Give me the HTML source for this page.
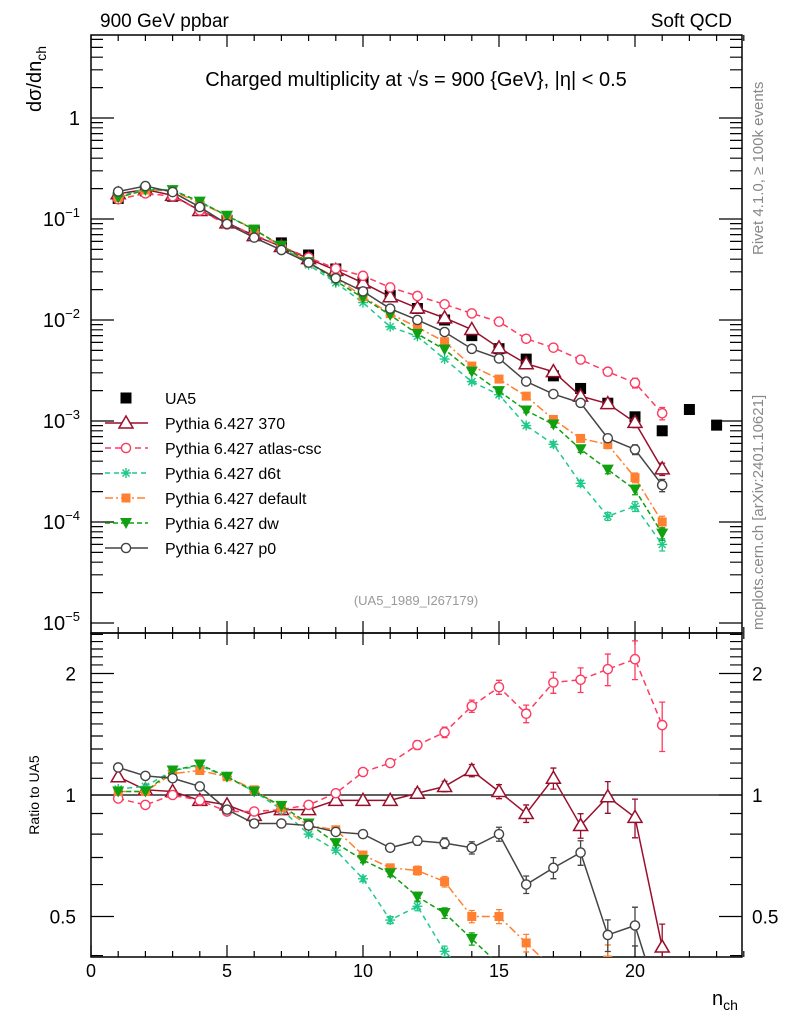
<!DOCTYPE html>
<html><head><meta charset="utf-8"><style>
html,body{margin:0;padding:0;background:#fff;width:786px;height:1024px;overflow:hidden;}
svg{display:block;font-family:"Liberation Sans",sans-serif;}
</style></head><body>
<svg id="chart" width="786" height="1024" viewBox="0 0 786 1024">
<defs>
<clipPath id="clipMain"><rect x="91" y="35" width="651" height="598"/></clipPath>
<clipPath id="clipRatio"><rect x="91" y="633" width="651" height="324"/></clipPath>
</defs>
<text x="100" y="27" font-size="19">900 GeV ppbar</text>
<text x="732" y="27" font-size="19" text-anchor="end">Soft QCD</text>
<text x="416" y="86" font-size="20" text-anchor="middle">Charged multiplicity at √s = 900 {GeV}, |η| &lt; 0.5</text>
<text transform="translate(41,112) rotate(-90)" font-size="20">dσ/dn<tspan font-size="14" dy="5">ch</tspan></text>
<text transform="translate(39,795) rotate(-90)" font-size="14" text-anchor="middle">Ratio to UA5</text>
<text x="712" y="1005" font-size="20">n<tspan font-size="14" dy="5">ch</tspan></text>
<text transform="translate(763,255) rotate(-90)" font-size="15" fill="#888">Rivet 4.1.0, ≥ 100k events</text>
<text transform="translate(763,630) rotate(-90)" font-size="15" fill="#888">mcplots.cern.ch [arXiv:2401.10621]</text>
<text x="416" y="605" font-size="13" fill="#999" text-anchor="middle">(UA5_1989_I267179)</text>
<g id="axes"></g>
<g id="marks"></g>
<g id="legend"></g>
</svg>
<script>
// ---- data ----
const nch = [1,2,3,4,5,6,7,8,9,10,11,12,13,14,15,16,17,18,19,20,21,22,23];
const ua5 = [0.16,0.19,0.168,0.125,0.097,0.077,0.058,0.044,0.032,0.024,0.0175,0.013,0.010,0.0070,0.0052,0.0041,0.0028,0.0021,0.0015,0.0011,0.00080,0.0013,0.00091];
const r370 = [1.11,1.03,1.02,0.97,0.945,0.89,0.92,0.92,0.97,0.97,0.97,1.01,1.05,1.15,1.02,0.90,1.10,0.84,0.99,0.88,0.42];
const rAtlas = [0.98,0.945,1.0,0.97,0.91,0.91,0.92,0.945,1.01,1.14,1.20,1.33,1.43,1.66,1.85,1.59,1.90,1.93,2.05,2.17,1.49];
const rD6t = [1.035,1.05,1.15,1.18,1.11,1.02,0.92,0.80,0.73,0.62,0.49,0.53,0.41,0.35,0.35,0.22,0.21,0.115,0.076,0.13,0.075];
const rDefault = [1.02,1.02,1.13,1.15,1.11,1.03,0.93,0.84,0.82,0.71,0.66,0.65,0.61,0.50,0.50,0.43,0.37,0.32,0.39,0.25,0.125];
const rDw = [1.02,1.02,1.15,1.19,1.11,1.02,0.94,0.85,0.76,0.69,0.64,0.56,0.51,0.44,0.38,0.31,0.33,0.25,0.22,0.19,0.096];
const rP0 = [1.17,1.115,1.10,1.05,0.92,0.85,0.85,0.84,0.81,0.80,0.74,0.77,0.76,0.74,0.80,0.60,0.66,0.72,0.45,0.475,0.29];
const relErr = [0.005,0.005,0.005,0.005,0.005,0.007,0.008,0.01,0.012,0.015,0.02,0.025,0.03,0.035,0.04,0.05,0.06,0.07,0.09,0.11,0.14];
const xTicks = [0,5,10,15,20];
const yMainTicks = [0,-1,-2,-3,-4,-5];
const ratioTicks = [0.5,1,2];
const legendNames = ["UA5","Pythia 6.427 370","Pythia 6.427 atlas-csc","Pythia 6.427 d6t","Pythia 6.427 default","Pythia 6.427 dw","Pythia 6.427 p0"];

// ---- axes ----
const X0=91,X1=742,MT=35,MB=633,RT=633,RB=957;
const xs = v => 91 + v*27.2;
const ym = v => 118 - 101*Math.log10(v);
const yr = r => 795 - 121.5*Math.log2(r);
const NS='http://www.w3.org/2000/svg';
function mk(tag, attrs, parent){const e=document.createElementNS(NS,tag);for(const k in attrs)e.setAttribute(k,attrs[k]);parent.appendChild(e);return e;}
const axes=document.getElementById('axes');
const marks=document.getElementById('marks');
const legend=document.getElementById('legend');

const frameM=mk('rect',{x:X0,y:MT,width:X1-X0,height:MB-MT,fill:'none',stroke:'#000','stroke-width':1.5},axes);


const frameR=mk('rect',{x:X0,y:RT,width:X1-X0,height:RB-RT,fill:'none',stroke:'#000','stroke-width':1.5},axes);


let tp='';
for(let i=0;i<=24;i++){const x=xs(i);const L=(i%5===0)?12:6;
  tp+=`M${x},${MT}v${L}M${x},${MB}v${-L}M${x},${RT}v${L}M${x},${RB}v${-L}`;}
for(let d=0;d>=-5;d--){for(let m=1;m<=9;m++){const v=m*Math.pow(10,d);const y=ym(v);if(y<MT||y>MB)continue;const L=m===1?23:12;
  tp+=`M${X0},${y}h${L}M${X1},${y}h${-L}`;}}
for(let m=2;m<=6;m++){const y=ym(m);if(y>=MT){tp+=`M${X0},${y}h12M${X1},${y}h-12`;}}
for(let r=0.4;r<=2.55;r+=0.1){const rr=Math.round(r*10)/10;const y=yr(rr);if(y<RT||y>RB)continue;const L=(rr===0.5||rr===1||rr===2)?23:12;
  tp+=`M${X0},${y}h${L}M${X1},${y}h${-L}`;}
const tk=mk('path',{d:tp,stroke:'#000','stroke-width':1.2,fill:'none'},axes);


const one=mk('line',{x1:X0,x2:X1,y1:yr(1),y2:yr(1),stroke:'#000','stroke-width':1.2},axes);


xTicks.forEach(v=>{const t=mk('text',{x:xs(v),y:977,'font-size':18,'text-anchor':'middle'},axes);t.textContent=v;
  
  });
yMainTicks.forEach(d=>{const t=mk('text',{x:80,y:ym(Math.pow(10,d))+7,'font-size':20,'text-anchor':'end'},axes);
  if(d===0){t.textContent='1';}else{t.textContent='10';const s=mk('tspan',{dy:-9,'font-size':13},t);s.textContent='−'+(-d);}
  
  });
ratioTicks.forEach(r=>{[[76,'end'],[752,'start']].forEach(([x,a])=>{const t=mk('text',{x:x,y:yr(r)+7,'font-size':19,'text-anchor':a},axes);t.textContent=r;
  
  });});

// ---- markers ----
function marker(g,type,x,y,c){
  if(type==='sq'){mk('rect',{x:x-5.5,y:y-5.5,width:11,height:11,fill:c},g);}
  else if(type==='tri'){mk('path',{d:`M${x},${y-7}L${x+7},${y+5}L${x-7},${y+5}Z`,fill:'#fff',stroke:c,'stroke-width':1.5},g);}
  else if(type==='circ'){mk('circle',{cx:x,cy:y,r:4.6,fill:'#fff',stroke:c,'stroke-width':1.4},g);}
  else if(type==='star'){let d='';for(let k=0;k<4;k++){const a=k*Math.PI/4;d+=`M${x-5*Math.cos(a)},${y-5*Math.sin(a)}L${x+5*Math.cos(a)},${y+5*Math.sin(a)}`;}mk('path',{d:d,stroke:c,'stroke-width':1.4},g);}
  else if(type==='fsq'){mk('rect',{x:x-4.5,y:y-4.5,width:9,height:9,fill:c},g);}
  else if(type==='dtri'){mk('path',{d:`M${x-6},${y-5}L${x+6},${y-5}L${x},${y+6}Z`,fill:c},g);}
}
const series=[
 {name:'370',r:r370,c:'#990f2c',dash:'',m:'tri'},
 {name:'atlas-csc',r:rAtlas,c:'#ff3a60',dash:'6,4',m:'circ'},
 {name:'d6t',r:rD6t,c:'#1fc98a',dash:'5,4',m:'star'},
 {name:'default',r:rDefault,c:'#ff8030',dash:'8,3,2,3',m:'fsq'},
 {name:'dw',r:rDw,c:'#10a010',dash:'5,3',m:'dtri'},
 {name:'p0',r:rP0,c:'#444444',dash:'',m:'circ'}
];
const gm=mk('g',{'clip-path':'url(#clipMain)'},marks);
const gr=mk('g',{'clip-path':'url(#clipRatio)'},marks);
const gu=mk('g',{},gm);


ua5.forEach((v,i)=>{marker(gu,'sq',xs(nch[i]),ym(v),'#000');});
series.forEach(s=>{
  ['main','ratio'].forEach(panel=>{
    const parent=panel==='main'?gm:gr;
    const g=mk('g',{},parent);
    
    
    const pts=s.r.map((r,i)=>{const v=r*ua5[i];return panel==='main'?[xs(nch[i]),ym(v),ym(v*(1+relErr[i])),ym(v*(1-relErr[i]))]:[xs(nch[i]),yr(r),yr(r*(1+relErr[i])),yr(r*(1-relErr[i]))];});
    let eb='';pts.forEach(p=>{if(p[3]-p[2]>3){eb+=`M${p[0]},${p[2]}V${p[3]}M${p[0]-3},${p[2]}h6M${p[0]-3},${p[3]}h6`;}});
    mk('path',{d:eb,stroke:s.c,'stroke-width':1.3,fill:'none'},g);
    mk('polyline',{points:pts.map(p=>p[0]+','+p[1]).join(' '),fill:'none',stroke:s.c,'stroke-width':1.5,'stroke-dasharray':s.dash},g);
    pts.forEach(p=>marker(g,s.m,p[0],p[1],s.c));
  });
});
// ---- legend ----
legendNames.forEach((nm,i)=>{
  const y=398+25*i;const g=mk('g',{},legend);
  
  
  if(i===0){marker(g,'sq',126,y,'#000');}
  else{const s=series[i-1];mk('line',{x1:105,x2:148,y1:y,y2:y,stroke:s.c,'stroke-width':1.5,'stroke-dasharray':s.dash},g);marker(g,s.m,126,y,s.c);}
  const t=mk('text',{x:165,y:y+6,'font-size':16},g);t.textContent=nm;
});
</script>
</body></html>
